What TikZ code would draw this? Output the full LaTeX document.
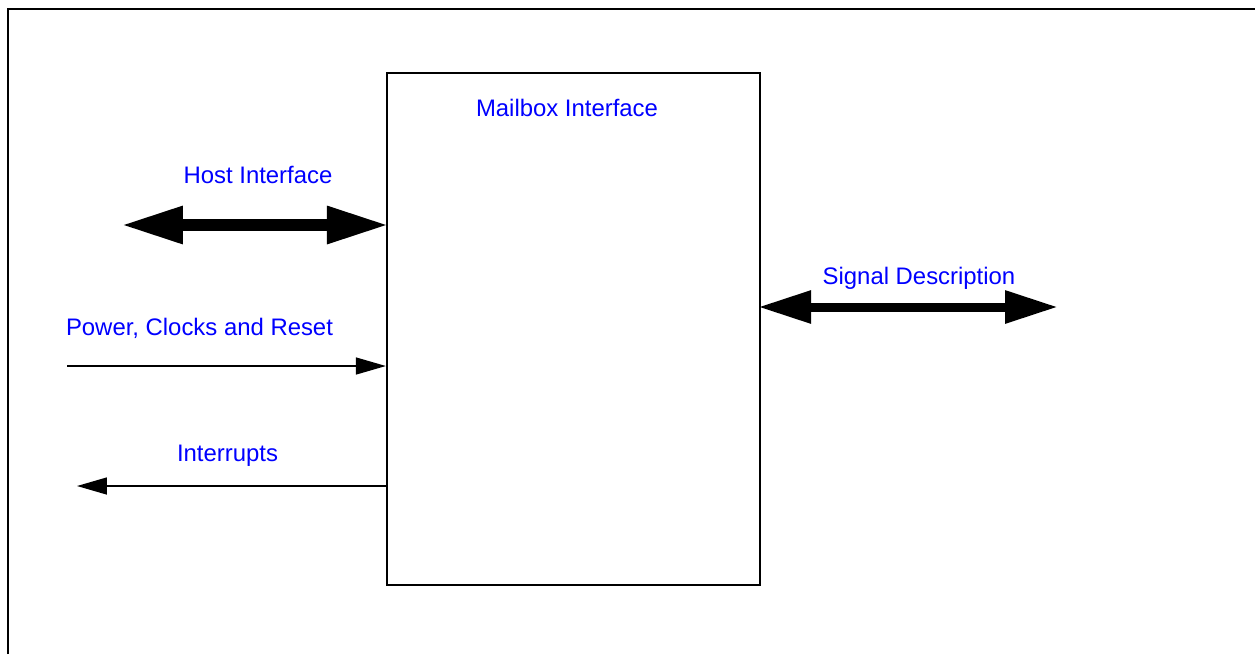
\documentclass[tikz,border=0pt]{standalone}
\usepackage{fontspec}
\setmainfont{Liberation Sans}
\usetikzlibrary{arrows.meta,calc}

\begin{document}
\begin{tikzpicture}[x=0.02cm, y=-0.02cm,
    frame/.style={line width=1.35pt},
    block/.style={draw, line width=1.35pt, minimum width=74.6mm, minimum height=102.4mm, inner sep=0pt},
    lbl/.style={text=blue, anchor=base, font=\fontsize{13.6pt}{16pt}\selectfont, inner sep=0pt},
    bus/.style={line width=2.4mm, shorten <=-0.6mm, shorten >=-0.6mm,
        {Triangle[length=12.4mm,width=7mm]}-{Triangle[length=12.4mm,width=7mm]}},
    sigbus/.style={line width=1.8mm, shorten <=-0.6mm, shorten >=-0.6mm,
        {Triangle[length=10.6mm,width=6.2mm]}-{Triangle[length=10.6mm,width=6.2mm]}},
    wire/.style={line width=0.85pt, -{Triangle[length=6mm,width=3.4mm]}}]
    \useasboundingbox (0,0) rectangle (1255,654);
    \draw[frame] (8,654) -- (8,9) -- (1255,9);

    \node[block] (mailbox) at (573.5,329) {};
    \node[lbl] (mbxlbl) at (567,116) {Mailbox Interface};

    \coordinate (host) at (124,225);
    \coordinate (pwr) at (67,366);
    \coordinate (irq) at (77,486);
    \coordinate (sig) at (1055,307);

    \draw[bus] (host) -- (host -| mailbox.west);
    \node[lbl] (hostlbl) at (258,183) {Host Interface};

    \draw[wire] (pwr) -- (pwr -| mailbox.west);
    \node[lbl] (pwrlbl) at (199.5,335) {Power, Clocks and Reset};

    \draw[wire] (irq -| mailbox.west) -- (irq);
    \node[lbl] (irqlbl) at (227.5,461) {Interrupts};

    \draw[sigbus] (sig -| mailbox.east) -- (sig);
    \node[lbl] (siglbl) at (919,284) {Signal Description};
\end{tikzpicture}
\end{document}
